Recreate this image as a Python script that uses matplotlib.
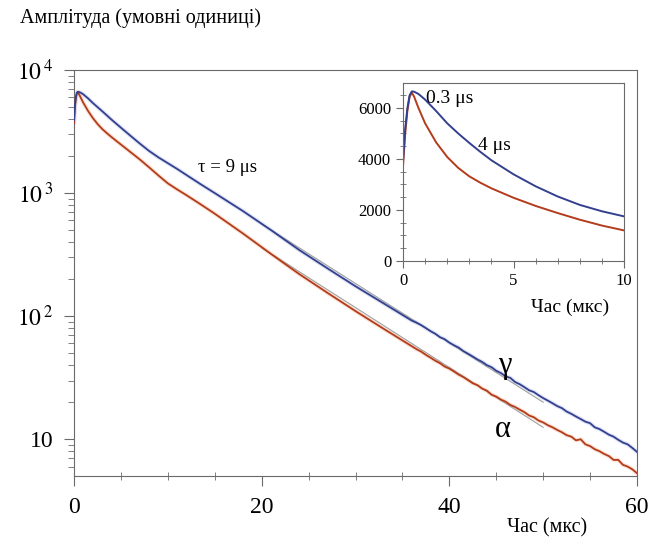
import matplotlib
matplotlib.use("Agg")
import matplotlib.pyplot as plt
from matplotlib.ticker import FixedLocator, FixedFormatter, MultipleLocator, LogLocator, NullFormatter

plt.rcParams["font.family"] = ["Liberation Serif", "DejaVu Serif"]
plt.rcParams["mathtext.fontset"] = "stix"

# ── data ─────────────────────────────────────────────────────────────────────
t_head = [0, 0.1, 0.2, 0.3, 0.4, 0.5, 0.7, 1, 1.5, 2, 2.5, 3, 3.5, 4, 5, 6, 7, 8, 9, 10,
          11, 12, 13.5, 15, 18, 21, 24, 27, 30, 33]
gamma_head = [3900, 5200, 6000, 6500, 6650, 6640, 6550, 6330, 5880, 5400, 5000, 4630, 4280, 3950,
              3400, 2930, 2530, 2200, 1950, 1750,
              1570, 1400, 1180, 1000, 715, 500, 345, 245, 175, 127]
alpha_head = [3700, 5000, 5900, 6450, 6600, 6450, 6000, 5400, 4650, 4080, 3650, 3320, 3070, 2850,
              2480, 2160, 1880, 1620, 1390, 1200,
              1070, 960, 810, 680, 470, 320, 220, 155, 110, 79]

t_tail = [36, 36.5, 37, 37.5, 38, 38.5, 39, 39.5, 40, 40.5, 41, 41.5, 42, 42.5, 43, 43.5, 44, 44.5,
          45, 45.5, 46, 46.5, 47, 47.5, 48, 48.5, 49, 49.5, 50, 50.5, 51, 51.5, 52, 52.5, 53, 53.5,
          54, 54.5, 55, 55.5, 56, 56.5, 57, 57.5, 58, 58.5, 59, 59.5, 60]
gamma_tail = [92, 88.5, 84.5, 80, 75.5, 72, 67.5, 65, 61, 58, 55.5, 52, 49.5, 47, 44.5, 42.5, 40, 38.5,
              36, 34.5, 32.5, 31.5, 29.2, 28, 26.5, 25, 24.2, 22.8, 21.6, 20.6, 19.6, 18.6, 17.9, 16.8,
              16.1, 15.3, 14.6, 13.9, 13.5, 12.5, 12.1, 11.5, 10.9, 10.5, 9.9, 9.4, 9.1, 8.5, 7.9]
alpha_tail = [57, 54, 51.5, 48.5, 46, 43.5, 41.5, 39, 37.5, 35.5, 33.5, 32, 30.2, 28.5, 27.5, 25.8, 24.8, 23,
              22.2, 21, 20.2, 19, 18.3, 17.4, 16.6, 15.6, 15.1, 14.2, 13.7, 13, 12.5, 11.9, 11.4, 10.8,
              10.5, 9.8, 10.0, 9.1, 8.8, 8.3, 8.0, 7.6, 7.3, 6.8, 6.8, 6.2, 6.0, 5.7, 5.3]

t_all = t_head + t_tail
gamma = gamma_head + gamma_tail
alpha = alpha_head + alpha_tail

# exponential fits (thin grey lines)
fit_t = [20, 50]
fit_gamma = [560, 20]
fit_alpha = [360, 12.5]

BLUE, BLUE_HALO = "#33408e", "#c3cbec"
RED, RED_HALO = "#b23c1c", "#f8c6ab"
AX_COL = "#6a6a6a"

fig = plt.figure(figsize=(6.5, 5.46), dpi=100)

# ── main log plot ────────────────────────────────────────────────────────────
ax = fig.add_axes([74 / 650, 1 - 476 / 546, 563 / 650, 406 / 546])
ax.set_yscale("log")
ax.plot(t_all, alpha, color=RED_HALO, lw=3, alpha=0.5, zorder=1)
ax.plot(t_all, gamma, color=BLUE_HALO, lw=3, alpha=0.5, zorder=1)
ax.plot(fit_t, fit_alpha, color="#a0a0a0", lw=0.8, zorder=2)
ax.plot(fit_t, fit_gamma, color="#a0a0a0", lw=0.8, zorder=2)
ax.plot(t_all, alpha, color=RED, lw=1.3, zorder=3)
ax.plot(t_all, gamma, color=BLUE, lw=1.3, zorder=3)

ax.set_xlim(0, 60)
ax.set_ylim(5.03, 1e4)
ax.xaxis.set_major_locator(MultipleLocator(20))
ax.xaxis.set_minor_locator(MultipleLocator(5))
ax.yaxis.set_major_locator(FixedLocator([10, 100, 1000, 10000]))
ax.yaxis.set_major_formatter(FixedFormatter(["10", r"$10^{\,2}$", r"$10^{\,3}$", r"$10^{\,4}$"]))
ax.yaxis.set_minor_locator(LogLocator(base=10, subs=range(2, 10)))
ax.yaxis.set_minor_formatter(NullFormatter())
ax.tick_params(axis="both", which="major", labelsize=17, color=AX_COL, length=7, direction="out", pad=8)
ax.tick_params(axis="x", which="minor", color=AX_COL, length=6, direction="inout")
ax.tick_params(axis="y", which="minor", color=AX_COL, length=4, direction="out")
for s in ax.spines.values():
    s.set_color(AX_COL)

ax.text(16.4, 1600, "τ = 9 μs", fontsize=13.5, ha="center", va="center")
ax.text(45.9, 40, "γ", fontsize=22, ha="center", va="center")
ax.text(45.7, 12, "α", fontsize=22, ha="center", va="center")

fig.text(20 / 650, 1 - 18 / 546, "Амплітуда (умовні одиниці)", fontsize=14.5, ha="left", va="center")
fig.text(547 / 650, 1 - 528 / 546, "Час (мкс)", fontsize=14.5, ha="center", va="center")

# ── inset, linear scale ──────────────────────────────────────────────────────
ins = fig.add_axes([403 / 650, 1 - 261 / 546, 221 / 650, 178 / 546])
ins.plot(t_head, alpha_head, color=RED, lw=1.4)
ins.plot(t_head, gamma_head, color=BLUE, lw=1.4)
ins.set_xlim(0, 10)
ins.set_ylim(0, 6980)
ins.xaxis.set_major_locator(FixedLocator([0, 5, 10]))
ins.xaxis.set_minor_locator(MultipleLocator(1))
ins.yaxis.set_major_locator(FixedLocator([0, 2000, 4000, 6000]))
ins.yaxis.set_minor_locator(MultipleLocator(500))
ins.tick_params(axis="both", which="major", labelsize=12, color=AX_COL, length=5, direction="out")
ins.tick_params(axis="both", which="minor", color=AX_COL, length=4, direction="inout")
for s in ins.spines.values():
    s.set_color(AX_COL)

ins.text(1.05, 6390, "0.3 μs", fontsize=14, ha="left", va="center")
ins.text(4.16, 4510, "4 μs", fontsize=14, ha="center", va="center")
fig.text(570 / 650, 1 - 307 / 546, "Час (мкс)", fontsize=14, ha="center", va="center")

fig.savefig("out.png", dpi=100)
